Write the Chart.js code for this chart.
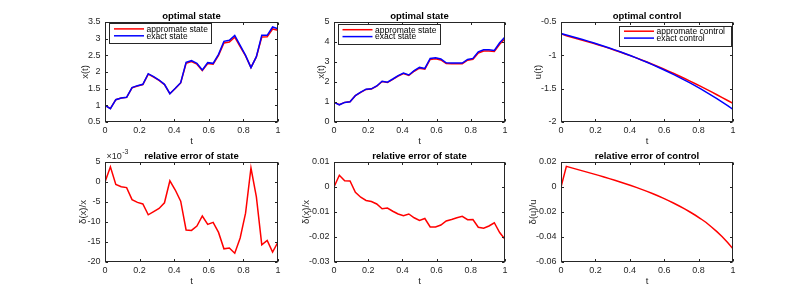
<!DOCTYPE html>
<html><head><meta charset="utf-8">
<script src="https://cdn.jsdelivr.net/npm/chart.js@4.4.1/dist/chart.umd.min.js"></script>
<style>
html,body{margin:0;padding:0;background:#fff;}
body{width:810px;height:296px;position:relative;overflow:hidden;}
canvas{position:absolute;}
</style></head><body>
<canvas id="c1" width="248" height="150" style="left:45px;top:0px"></canvas>
<canvas id="c2" width="246" height="150" style="left:274px;top:0px"></canvas>
<canvas id="c3" width="247" height="150" style="left:501px;top:0px"></canvas>
<canvas id="c4" width="248" height="150" style="left:45px;top:140px"></canvas>
<canvas id="c5" width="246" height="150" style="left:274px;top:140px"></canvas>
<canvas id="c6" width="247" height="150" style="left:501px;top:140px"></canvas>
<script>
// ---- data ----
const tGrid = [0, 0.03125, 0.0625, 0.09375, 0.125, 0.15625, 0.1875, 0.21875, 0.25, 0.28125, 0.3125, 0.34375, 0.375, 0.40625, 0.4375, 0.46875, 0.5, 0.53125, 0.5625, 0.59375, 0.625, 0.65625, 0.6875, 0.71875, 0.75, 0.78125, 0.8125, 0.84375, 0.875, 0.90625, 0.9375, 0.96875, 1];
const xTicks = [0, 0.2, 0.4, 0.6, 0.8, 1];

const xApprox1 = [1.000, 0.903, 1.169, 1.219, 1.238, 1.523, 1.582, 1.621, 1.934, 1.846, 1.748, 1.622, 1.350, 1.507, 1.672, 2.263, 2.312, 2.235, 2.042, 2.256, 2.237, 2.498, 2.871, 2.901, 3.045, 2.761, 2.481, 2.137, 2.451, 3.051, 3.055, 3.291, 3.251];
const xExact1 = [1.00, 0.90, 1.17, 1.22, 1.24, 1.53, 1.59, 1.63, 1.95, 1.86, 1.76, 1.63, 1.35, 1.51, 1.68, 2.29, 2.34, 2.26, 2.06, 2.28, 2.26, 2.53, 2.92, 2.95, 3.10, 2.80, 2.50, 2.13, 2.46, 3.10, 3.10, 3.35, 3.30];
const relErr1 = [0, 0.0038, -0.0006, -0.0012, -0.0014, -0.0044, -0.0051, -0.0055, -0.0082, -0.0074, -0.0066, -0.0052, 0.0003, -0.0020, -0.0048, -0.0120, -0.0121, -0.0110, -0.0085, -0.0106, -0.0101, -0.0126, -0.0167, -0.0165, -0.0178, -0.0140, -0.0078, 0.0035, -0.0037, -0.0157, -0.0146, -0.0175, -0.0150];

const xApprox2 = [0.990, 0.864, 0.982, 1.012, 1.317, 1.484, 1.631, 1.650, 1.788, 2.022, 1.973, 2.129, 2.295, 2.422, 2.325, 2.538, 2.693, 2.646, 3.129, 3.159, 3.102, 2.920, 2.912, 2.914, 2.915, 3.089, 3.139, 3.453, 3.550, 3.554, 3.529, 3.888, 4.161];
const xExact2 = [0.99, 0.86, 0.98, 1.01, 1.32, 1.49, 1.64, 1.66, 1.80, 2.04, 1.99, 2.15, 2.32, 2.45, 2.35, 2.57, 2.73, 2.68, 3.18, 3.21, 3.15, 2.96, 2.95, 2.95, 2.95, 3.13, 3.18, 3.51, 3.61, 3.61, 3.58, 3.96, 4.25];
const relErr2 = [0, 0.0047, 0.0025, 0.0024, -0.0021, -0.0041, -0.0054, -0.0058, -0.0068, -0.0087, -0.0084, -0.0097, -0.0108, -0.0115, -0.0108, -0.0123, -0.0134, -0.0126, -0.0160, -0.0160, -0.0152, -0.0136, -0.0130, -0.0123, -0.0117, -0.0131, -0.0130, -0.0161, -0.0165, -0.0156, -0.0143, -0.0182, -0.0209];

const uApprox = [-0.6740, -0.7066, -0.7279, -0.7498, -0.7724, -0.7957, -0.8197, -0.8444, -0.8698, -0.8959, -0.9228, -0.9504, -0.9788, -1.0081, -1.0382, -1.0691, -1.1008, -1.1334, -1.1668, -1.2011, -1.2363, -1.2723, -1.3093, -1.3472, -1.3859, -1.4256, -1.4661, -1.5074, -1.5490, -1.5915, -1.6344, -1.6776, -1.7210];
const uExact = [-0.6740, -0.6951, -0.7169, -0.7394, -0.7626, -0.7865, -0.8112, -0.8366, -0.8629, -0.8899, -0.9178, -0.9466, -0.9763, -1.0069, -1.0385, -1.0711, -1.1047, -1.1393, -1.1750, -1.2119, -1.2499, -1.2891, -1.3295, -1.3712, -1.4142, -1.4586, -1.5043, -1.5515, -1.6002, -1.6504, -1.7021, -1.7555, -1.8106];
const relErrU = [0, 0.0165, 0.0153, 0.0141, 0.0129, 0.0117, 0.0105, 0.0093, 0.0080, 0.0067, 0.0054, 0.0040, 0.0026, 0.0012, -0.0003, -0.0019, -0.0035, -0.0052, -0.0070, -0.0089, -0.0109, -0.0130, -0.0152, -0.0175, -0.0200, -0.0226, -0.0254, -0.0284, -0.0320, -0.0357, -0.0398, -0.0444, -0.0495];

const yTicks1 = [0.5, 1, 1.5, 2, 2.5, 3, 3.5];
const yTicks2 = [0, 1, 2, 3, 4, 5];
const yTicks3 = [-2, -1.5, -1, -0.5];
const yTicks4 = [-0.020, -0.015, -0.010, -0.005, 0, 0.005];
const yTicks5 = [-0.03, -0.02, -0.01, 0, 0.01];
const yTicks6 = [-0.06, -0.04, -0.02, 0, 0.02];

const titles = ['optimal state', 'optimal state', 'optimal control', 'relative error of state', 'relative error of state', 'relative error of control'];
const yLabels = ['x(t)', 'x(t)', 'u(t)', 'δ(x)/x', 'δ(x)/x', 'δ(u)/u'];
const legend1 = ['appromate state', 'exact state'];
const legend3 = ['appromate control', 'exact control'];

// ---- helpers ----
const FONT = '"Liberation Sans", Arial, Helvetica, sans-serif';
const AXC = '#262626';
Chart.defaults.font.family = FONT;
Chart.defaults.color = AXC;

function pts(arr) { return tGrid.map((t, i) => ({x: t, y: arr[i]})); }

function fmt(v) { return String(Number(v.toFixed(4))); }

function makeChart(id, o) {
  const decor = {
    id: 'decor' + id,
    afterDatasetsDraw(chart) {
      const ctx = chart.ctx, a = chart.chartArea;
      const L = Math.round(a.left) + 0.5, R = Math.round(a.right) - 0.5;
      const T = Math.round(a.top) + 0.5, B = Math.round(a.bottom) - 0.5;
      ctx.save();
      ctx.strokeStyle = AXC; ctx.lineWidth = 1;
      ctx.strokeRect(L, T, R - L, B - T);
      const tl = 2.5;
      ctx.beginPath();
      chart.scales.x.ticks.forEach(tk => {
        const p = Math.round(chart.scales.x.getPixelForValue(tk.value)) + 0.5;
        ctx.moveTo(p, B); ctx.lineTo(p, B - tl);
        ctx.moveTo(p, T); ctx.lineTo(p, T + tl);
      });
      chart.scales.y.ticks.forEach(tk => {
        const p = Math.round(chart.scales.y.getPixelForValue(tk.value)) + 0.5;
        ctx.moveTo(L, p); ctx.lineTo(L + tl, p);
        ctx.moveTo(R, p); ctx.lineTo(R - tl, p);
      });
      ctx.stroke();
      // title centred over the plot area
      ctx.fillStyle = '#000';
      ctx.font = 'bold 9.5px ' + FONT;
      ctx.textAlign = 'center'; ctx.textBaseline = 'middle';
      ctx.fillText(o.title, (a.left + a.right) / 2, a.top - 6);
      if (o.legend) {
        const g = o.legend;
        const bx = g.right ? a.right - g.dx - g.w : a.left + g.dx;
        const by = a.top + g.dy;
        ctx.fillStyle = '#fff';
        ctx.fillRect(bx, by, g.w, g.h);
        ctx.strokeStyle = AXC; ctx.lineWidth = 1;
        ctx.strokeRect(Math.round(bx) + 0.5, Math.round(by) + 0.5, Math.round(g.w), Math.round(g.h));
        ctx.font = '8.5px ' + FONT;
        ctx.textBaseline = 'middle'; ctx.textAlign = 'left';
        const cols = ['#ff0000', '#0000ff'];
        const rows = [5.7, 12.6];
        for (let i = 0; i < 2; i++) {
          ctx.strokeStyle = cols[i]; ctx.lineWidth = 1.5;
          ctx.beginPath();
          ctx.moveTo(bx + 5, by + rows[i]); ctx.lineTo(bx + 35, by + rows[i]);
          ctx.stroke();
          ctx.fillStyle = '#000';
          ctx.fillText(g.labels[i], bx + 37.5, by + rows[i] + 0.5);
        }
      }
      if (o.exponent) {
        ctx.fillStyle = AXC;
        ctx.textBaseline = 'middle'; ctx.textAlign = 'left';
        ctx.font = '9px ' + FONT;
        const x0 = a.left + 1.5;
        ctx.fillText('×10', x0, a.top - 5.5);
        const w = ctx.measureText('×10').width;
        ctx.font = '7px ' + FONT;
        ctx.fillText('-3', x0 + w + 0.5, a.top - 9.5);
      }
      ctx.restore();
    }
  };
  return new Chart(document.getElementById(id), {
    type: 'line',
    data: {
      datasets: o.series.map(s => ({
        label: s.label, data: pts(s.data), borderColor: s.color, borderWidth: 1.5,
        pointRadius: 0, tension: 0, fill: false, order: s.order
      }))
    },
    options: {
      responsive: false, animation: false, devicePixelRatio: 1,
      layout: {padding: {left: 0, right: o.padRight, top: 22, bottom: 0}},
      plugins: {
        legend: {display: false}, tooltip: {enabled: false}, title: {display: false}
      },
      scales: {
        x: {
          type: 'linear', min: 0, max: 1,
          afterFit: s => { s.height = 28; },
          afterBuildTicks: s => { s.ticks = xTicks.map(v => ({value: v})); },
          grid: {display: false, drawTicks: false}, border: {display: false},
          ticks: {padding: 3.3, font: {size: 9}, color: AXC, maxRotation: 0, autoSkip: false, callback: v => fmt(v)},
          title: {display: true, text: 't', color: AXC, font: {size: 9.5}, padding: {top: 0, bottom: 3.3}}
        },
        y: {
          type: 'linear', min: o.yTicks[0], max: o.yTicks[o.yTicks.length - 1],
          afterFit: s => { s.width = 60; },
          afterBuildTicks: s => { s.ticks = o.yTicks.map(v => ({value: v})); },
          grid: {display: false, drawTicks: false}, border: {display: false},
          ticks: {padding: 4.5, font: {size: 9}, color: AXC, autoSkip: false, callback: o.yFmt || (v => fmt(v))},
          title: {display: true, text: o.yLabel, color: AXC, font: {size: 9.5}, padding: {top: o.yTitlePad, bottom: 0}}
        }
      }
    },
    plugins: [decor]
  });
}

const legBoxL1 = {labels: legend1, right: false, dx: 4, dy: 1.2, w: 102, h: 19.5};
const legBoxL2 = {labels: legend1, right: false, dx: 3.5, dy: 2, w: 102, h: 19.5};
const legBoxR = {labels: legend3, right: true, dx: 2, dy: 3.5, w: 112, h: 19.5};

makeChart('c1', {title: titles[0], yLabel: yLabels[0], yTitlePad: 34.3, yTicks: yTicks1, padRight: 15,
  series: [{label: legend1[0], data: xApprox1, color: '#ff0000', order: 1}, {label: legend1[1], data: xExact1, color: '#0000ff', order: 0}], legend: legBoxL1});
makeChart('c2', {title: titles[1], yLabel: yLabels[1], yTitlePad: 42, yTicks: yTicks2, padRight: 15,
  series: [{label: legend1[0], data: xApprox2, color: '#ff0000', order: 1}, {label: legend1[1], data: xExact2, color: '#0000ff', order: 0}], legend: legBoxL2});
makeChart('c3', {title: titles[2], yLabel: yLabels[2], yTitlePad: 31.3, yTicks: yTicks3, padRight: 15,
  series: [{label: legend3[0], data: uApprox, color: '#ff0000', order: 1}, {label: legend3[1], data: uExact, color: '#0000ff', order: 0}], legend: legBoxR});
makeChart('c4', {title: titles[3], yLabel: yLabels[3], yTitlePad: 32.6, yTicks: yTicks4, padRight: 15, exponent: true,
  yFmt: v => String(Math.round(v * 1000)),
  series: [{label: titles[3], data: relErr1, color: '#ff0000', order: 0}]});
makeChart('c5', {title: titles[4], yLabel: yLabels[4], yTitlePad: 26.3, yTicks: yTicks5, padRight: 15,
  series: [{label: titles[4], data: relErr2, color: '#ff0000', order: 0}]});
makeChart('c6', {title: titles[5], yLabel: yLabels[5], yTitlePad: 26.3, yTicks: yTicks6, padRight: 15,
  series: [{label: titles[5], data: relErrU, color: '#ff0000', order: 0}]});
</script>
</body></html>
